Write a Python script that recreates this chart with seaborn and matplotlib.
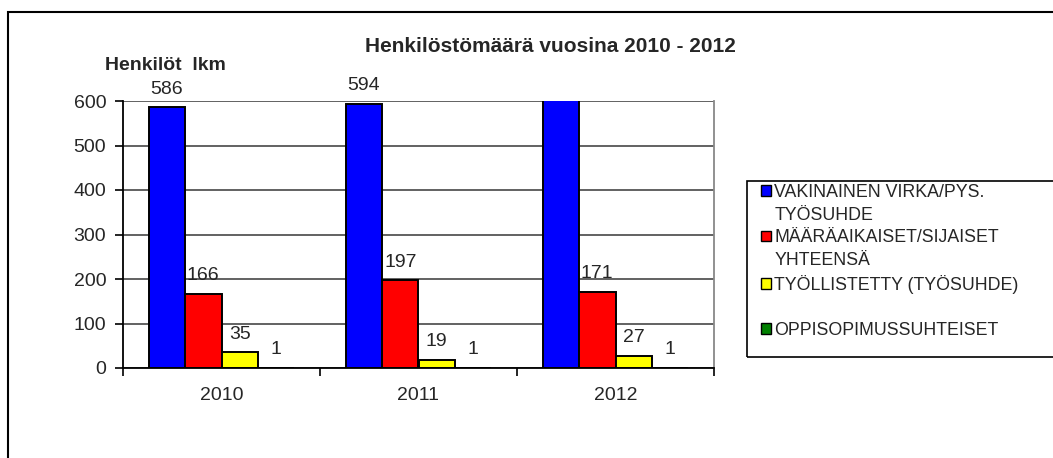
import pandas as pd
import numpy as np
import matplotlib.pyplot as plt
import seaborn as sns
from matplotlib.patches import Patch, Rectangle

sns.set_style("white")
plt.rcParams["font.family"] = ["Liberation Sans", "DejaVu Sans"]

years = ["2010", "2011", "2012"]
series = [
    "VAKINAINEN VIRKA/PYS. TYÖSUHDE",
    "MÄÄRÄAIKAISET/SIJAISET YHTEENSÄ",
    "TYÖLLISTETTY (TYÖSUHDE)",
    "OPPISOPIMUSSUHTEISET",
]
vakinainen = [586, 594, 625]   # 2012 bar runs off the top, label not shown
maaraaikaiset = [166, 197, 171]
tyollistetty = [35, 19, 27]
oppisopimus = [1, 1, 1]
colors = ["#0000FF", "#FF0000", "#FFFF00", "#008000"]

rows = []
for name, vals in zip(series, [vakinainen, maaraaikaiset, tyollistetty, oppisopimus]):
    for y, v in zip(years, vals):
        rows.append({"year": y, "series": name, "count": v})
df = pd.DataFrame(rows)

fig = plt.figure(figsize=(10.53, 4.58), dpi=100)
ax = fig.add_axes([123 / 1053, 1 - 368 / 458, (714 - 123) / 1053, (368 - 101) / 458])

sns.barplot(data=df, x="year", y="count", hue="series", hue_order=series,
            palette=colors, saturation=1, width=0.74, gap=0,
            edgecolor="black", linewidth=1.4, legend=False, ax=ax)

ax.set_ylim(0, 600)
ax.set_xlim(-0.5, 2.5)
ax.set_yticks(range(0, 601, 100))
ax.yaxis.grid(True, color="#555555", linewidth=1.3)
ax.set_axisbelow(True)
ax.set_xlabel("")
ax.set_ylabel("")

ax.spines["top"].set_visible(False)
ax.spines["right"].set_color("#888888")
ax.spines["right"].set_linewidth(1.3)
ax.spines["left"].set_color("black")
ax.spines["bottom"].set_color("black")
ax.spines["left"].set_linewidth(1.3)
ax.spines["bottom"].set_linewidth(1.3)

ax.tick_params(axis="y", left=True, length=6, width=1.2, labelsize=14, pad=6, color="black")
ax.tick_params(axis="x", which="major", bottom=False, labelsize=14, pad=10)
ax.set_xticks([-0.5, 0.5, 1.5, 2.5], minor=True)
ax.tick_params(axis="x", which="minor", bottom=True, length=6, width=1.2, color="black")

# value labels above the bars (skip the clipped one)
for cont in ax.containers:
    for bar in cont:
        h = bar.get_height()
        if h > 600:
            continue
        ax.annotate(f"{int(h)}", (bar.get_x() + bar.get_width() / 2, h),
                    xytext=(0, 7), textcoords="offset points",
                    ha="center", va="bottom", fontsize=14, annotation_clip=False)

fig.text(550 / 1053, 1 - 47 / 458, "Henkilöstömäärä vuosina 2010 - 2012",
         ha="center", va="center", fontsize=15, fontweight="bold")
fig.text(105 / 1053, 1 - 66 / 458, "Henkilöt  lkm", ha="left", va="center",
         fontsize=14, fontweight="bold")

# legend, one row per text line so the swatches sit on the first line
blank = Patch(facecolor="none", edgecolor="none")
handles = [
    Patch(facecolor=colors[0], edgecolor="black"), blank,
    Patch(facecolor=colors[1], edgecolor="black"), blank,
    Patch(facecolor=colors[2], edgecolor="black"), blank,
    Patch(facecolor=colors[3], edgecolor="black"),
]
labels = ["VAKINAINEN VIRKA/PYS.", "TYÖSUHDE", "MÄÄRÄAIKAISET/SIJAISET", "YHTEENSÄ",
          "TYÖLLISTETTY (TYÖSUHDE)", " ", "OPPISOPIMUSSUHTEISET"]
fig.legend(handles, labels, loc="upper left",
           bbox_to_anchor=(752 / 1053, 1 - 175 / 458), frameon=False,
           fontsize=12.8, labelspacing=0.32, handlelength=0.55, handleheight=0.55,
           handletextpad=0.2, borderpad=0)

fig.patches.append(Rectangle((747 / 1053, 1 - 357 / 458), 0.4, (357 - 181) / 458,
                             transform=fig.transFigure, fill=False,
                             edgecolor="black", linewidth=1.2))
fig.patches.append(Rectangle((8 / 1053, -0.1), 1.2, 1.1 - 12 / 458,
                             transform=fig.transFigure, fill=False,
                             edgecolor="black", linewidth=1.5))

fig.savefig("out.png", dpi=100, facecolor="white")
